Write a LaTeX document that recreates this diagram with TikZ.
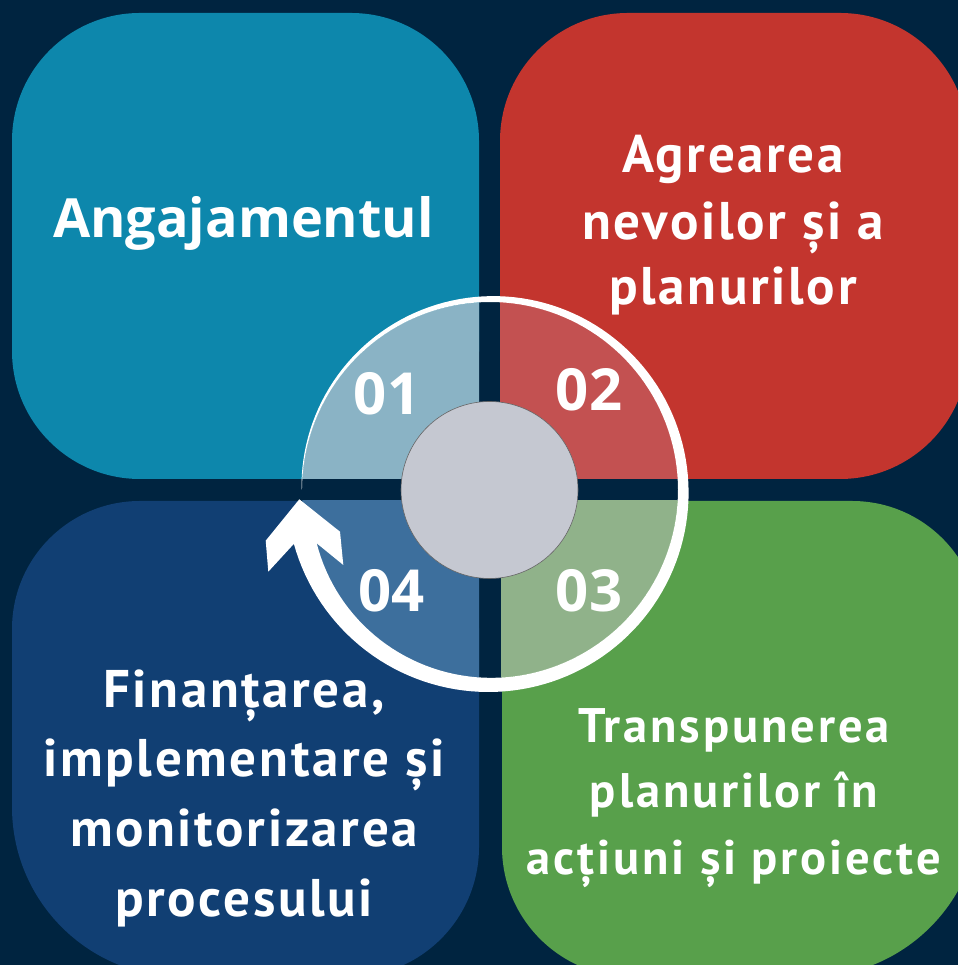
\documentclass[tikz,border=0pt]{standalone}
\usepackage{fontspec}
\setmainfont{PT Sans}
\newfontfamily\osans{Open Sans}
\definecolor{bgc}{HTML}{002440}
\definecolor{tealbox}{HTML}{0D87AC}
\definecolor{redbox}{HTML}{C3352E}
\definecolor{greenbox}{HTML}{58A04B}
\definecolor{bluebox}{HTML}{113F73}
\definecolor{paleA}{HTML}{8AB3C5}
\definecolor{paleB}{HTML}{C35151}
\definecolor{paleC}{HTML}{90B28A}
\definecolor{paleD}{HTML}{3D6F9D}
\definecolor{hubc}{HTML}{C5C8D1}
\tikzset{
  lblbig/.style={text=white, anchor=base, inner sep=0pt, font={\fontsize{53}{60}\selectfont\bfseries\addfontfeatures{LetterSpace=5}}},
  lblmid/.style={text=white, anchor=base, inner sep=0pt, font={\fontsize{48.5}{56}\selectfont\bfseries\addfontfeatures{LetterSpace=6}}},
  lblang/.style={text=white, anchor=base, inner sep=0pt, font=\osans\bfseries\fontsize{54}{60}\selectfont},
  numlbl/.style={text=white, anchor=base, inner sep=0pt, font=\osans\bfseries\fontsize{58}{60}\selectfont},
}
\begin{document}
\begin{tikzpicture}[x=1pt,y=1pt]
\useasboundingbox (0,0) rectangle (958,965);
\clip (0,0) rectangle (958,965);
\fill[bgc] (0,0) rectangle (958,965);
% boxes
\fill[tealbox, rounded corners=128pt] (12,486) rectangle (479,952);
\fill[redbox, rounded corners=128pt] (500,486) rectangle (968,952);
\fill[bluebox] (12,336) arc[start angle=180,end angle=90,radius=128] -- (351,464)
  arc[start angle=90,end angle=0,radius=128] -- (479,118)
  arc[start angle=0,end angle=-90,radius=130] -- (182,-12)
  arc[start angle=270,end angle=180,radius=170] -- cycle;
\fill[greenbox] (502,336) arc[start angle=180,end angle=90,radius=128] -- (852,464)
  arc[start angle=90,end angle=0,radius=128] -- (980,158)
  arc[start angle=0,end angle=-90,radius=170] -- (632,-12)
  arc[start angle=270,end angle=180,radius=130] -- cycle;
% pale quarter segments
\begin{scope}\clip (0,486) rectangle (479,965); \fill[paleA] (490,475) circle[radius=188]; \end{scope}
\begin{scope}\clip (500,486) rectangle (958,965); \fill[paleB] (490,475) circle[radius=188]; \end{scope}
\begin{scope}\clip (501,0) rectangle (958,464); \fill[paleC] (490,475) circle[radius=188]; \end{scope}
\begin{scope}\clip (0,0) rectangle (479,464); \fill[paleD] (490,475) circle[radius=188]; \end{scope}
% hub
\node[circle, fill=hubc, draw=gray!80!black, line width=0.6pt, minimum size=177pt, inner sep=0pt] (hub) at (489.5,475) {};
% tapered circular arrow
\fill[white]
  plot[domain=0:1, samples=150, variable=\t]
    ({490+(188.5+21*\t-6.1*\t*\t*\t)*cos(180-345.3*\t)}, {475+(188.5+21*\t-6.1*\t*\t*\t)*sin(180-345.3*\t)})
  -- (268.3,393.3) -- (265.7,424.3) -- (299.3,465.7) -- (340,433.3) -- (343.3,400) -- (316.7,421.7)
  -- plot[domain=1:0, samples=150, variable=\t]
    ({490+(188-6.7*(max(0,\t-0.75)/0.25)^2)*cos(180-342.9*\t)}, {475+(188-6.7*(max(0,\t-0.75)/0.25)^2)*sin(180-342.9*\t)})
  -- cycle;
% numbers
\node[numlbl] (n1) at (387,550) {01};
\node[numlbl] (n2) at (589,554) {02};
\node[numlbl] (n3) at (589,353) {03};
\node[numlbl] (n4) at (391.5,353) {04};
% texts
\node[lblang] (angaj) at (243.5,727) {Angajamentul};
\node[lblbig] (agra) at (733,792) {Agrearea};
\node[lblbig] (agrb) at (733,725) {nevoilor și a};
\node[lblbig] (agrc) at (733,660) {planurilor};
\node[lblmid] (trna) at (734,222) {Transpunerea};
\node[lblmid] (trnb) at (734,157) {planurilor în};
\node[lblmid] (trnc) at (734,90) {acțiuni și proiecte};
\node[lblbig] (fina) at (244,257) {Finanțarea,};
\node[lblbig] (finb) at (244,188) {implementare și};
\node[lblbig] (finc) at (244,118) {monitorizarea};
\node[lblbig] (find) at (244,48) {procesului};
\end{tikzpicture}
\end{document}
